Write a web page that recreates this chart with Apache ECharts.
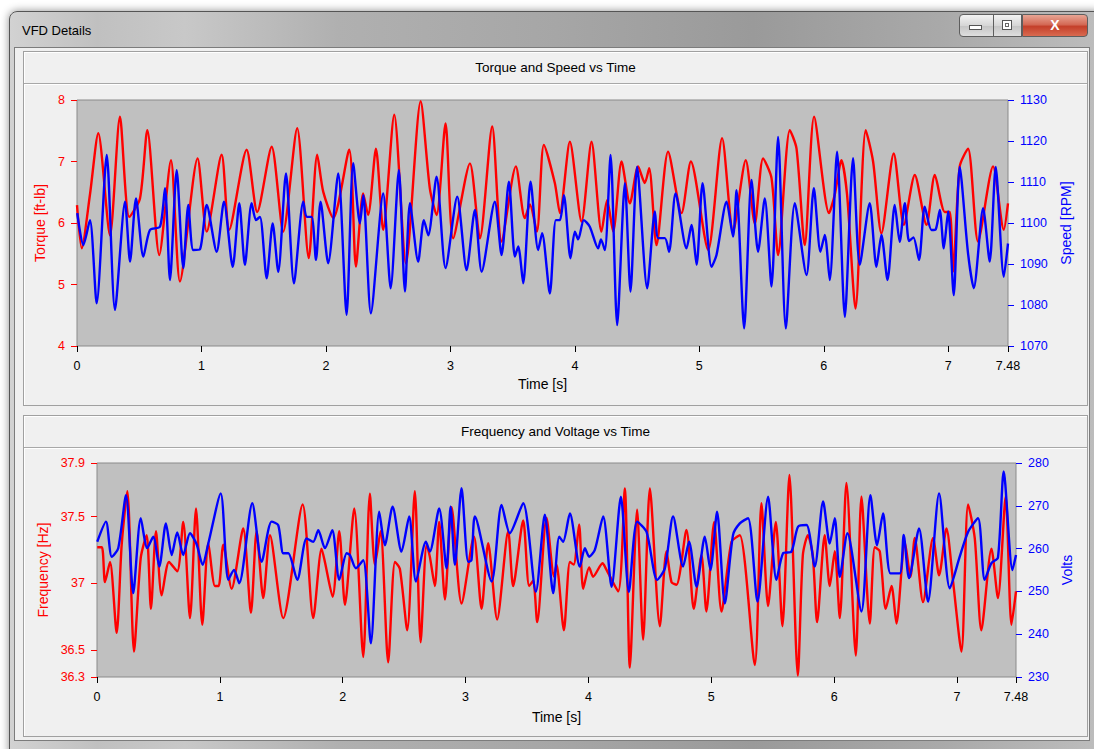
<!DOCTYPE html>
<html><head><meta charset="utf-8">
<script src="https://cdn.jsdelivr.net/npm/echarts@6/dist/echarts.min.js"></script>
<style>
html,body{margin:0;padding:0;width:1094px;height:749px;overflow:hidden;background:#ffffff;font-family:"Liberation Sans",Arial,sans-serif;}
.abs{position:absolute;box-sizing:border-box;}
#win{left:9px;top:11px;width:1095px;height:745px;border:1px solid #555;border-radius:8px 8px 0 0;
 background:linear-gradient(90deg,#d2d2d2 0%,#c0c0c0 8%,#c8c8c8 16%,#b0b0b0 30%,#a6a6a6 50%,#9a9a9a 68%,#a9a9a9 85%,#bdbdbd 100%);
 box-shadow:0 0 9px rgba(0,0,0,0.45);}
#wtitle{left:22px;top:23px;font-size:13px;color:#000;}
#client{left:14px;top:47px;width:1076px;height:694px;background:#f0f0f0;border:1px solid #7c7c7c;}
.panel{border:1px solid #a0a0a0;box-shadow:inset 1px 1px 0 #ffffff;background:#f0f0f0;}
.phead{height:31px;line-height:31px;text-align:center;font-size:13.5px;color:#000;border-bottom:1px solid #a8a8a8;box-shadow:0 1px 0 #ffffff;}
.btn{top:14px;height:23px;border:1px solid #5e5e5e;background:linear-gradient(#f3f3f3,#d6d6d6 50%,#c4c4c4 51%,#dedede);}
#bmin{left:959px;width:35px;border-radius:4px 0 0 4px;}
#bmax{left:993px;width:29px;}
#bclose{left:1022px;width:66px;border-radius:0 4px 4px 0;background:linear-gradient(#e8a594,#d46a56 45%,#c4402a 55%,#d96a50);color:#fff;font-weight:bold;font-size:14px;text-align:center;line-height:21px;}
#imin{left:969px;top:25px;width:13px;height:5px;border:1px solid #555;background:#fff;}
#imax{left:1002px;top:20px;width:10px;height:10px;border:1px solid #555;background:#fff;box-shadow:inset 0 0 0 2px #fff, inset 0 0 0 3px #666;}
#chart{left:0;top:0;width:1094px;height:749px;z-index:5;}
</style></head>
<body>
<div id="win" class="abs"></div>
<div id="wtitle" class="abs">VFD Details</div>
<div id="bmin" class="abs btn"></div>
<div id="bmax" class="abs btn"></div>
<div id="bclose" class="abs btn">X</div>
<div id="imin" class="abs"></div>
<div id="imax" class="abs"></div>
<div id="client" class="abs"></div>
<div class="abs panel" style="left:23px;top:51px;width:1065px;height:355px;"><div class="phead">Torque and Speed vs Time</div></div>
<div class="abs panel" style="left:23px;top:415px;width:1065px;height:322px;"><div class="phead">Frequency and Voltage vs Time</div></div>
<div id="chart" class="abs"></div>
<script>
// ---- data ----
var timeTicks = [0, 1, 2, 3, 4, 5, 6, 7, 7.48];
var freqTicks = [36.3, 36.5, 37, 37.5, 37.9];

var torqueT = [0,0.038,0.104,0.171,0.265,0.345,0.42,0.506,0.565,0.661,0.755,0.827,0.969,1.042,1.162,1.223,1.363,1.448,1.564,1.657,1.769,1.862,1.93,1.978,2.059,2.187,2.241,2.299,2.339,2.402,2.46,2.549,2.643,2.761,2.835,2.889,2.961,3.022,3.157,3.237,3.336,3.411,3.526,3.598,3.639,3.695,3.751,3.839,3.88,3.96,4.054,4.134,4.214,4.259,4.308,4.375,4.442,4.508,4.562,4.597,4.656,4.749,4.857,4.932,5.071,5.183,5.271,5.373,5.446,5.512,5.58,5.633,5.727,5.781,5.847,5.922,6.042,6.088,6.142,6.187,6.255,6.337,6.396,6.463,6.562,6.643,6.731,6.825,6.892,6.972,7.012,7.039,7.092,7.159,7.239,7.36,7.446,7.48];
var torqueV = [6.29,5.59,6.46,7.46,5.8,7.73,6.1,6.4,7.51,5.48,7.02,5.05,7.05,5.86,7.11,5.89,7.19,6.18,7.24,5.86,7.54,5.43,7.11,6.51,6.08,7.19,5.29,6.48,6.13,7.21,5.89,7.76,5.34,7.98,6.56,6.13,7.62,5.75,6.97,5.75,7.57,5.7,6.92,6.08,6.3,5.86,7.27,6.65,6.16,7.32,6.02,7.32,5.86,6.37,5.86,7.0,6.32,6.92,6.65,6.89,5.64,7.16,6.16,7.0,5.56,7.38,5.86,7.02,5.99,7.05,6.73,5.48,7.51,7.21,5.64,7.73,6.16,6.46,7.02,6.46,4.61,7.51,7.0,5.83,7.13,5.97,6.78,5.97,6.78,6.18,6.18,5.21,6.92,7.21,5.7,6.92,5.89,6.32];

var speedT = [0.002,0.051,0.104,0.158,0.239,0.305,0.386,0.426,0.474,0.533,0.586,0.667,0.707,0.747,0.801,0.854,0.894,0.934,0.988,1.042,1.122,1.181,1.251,1.304,1.349,1.403,1.438,1.47,1.524,1.572,1.617,1.679,1.743,1.818,1.845,1.885,1.92,1.957,2.018,2.099,2.166,2.219,2.273,2.3,2.361,2.46,2.52,2.586,2.635,2.675,2.741,2.787,2.822,2.889,2.961,3.055,3.13,3.197,3.251,3.357,3.411,3.47,3.518,3.545,3.585,3.644,3.705,3.737,3.799,3.847,3.88,3.912,3.965,4.0,4.027,4.072,4.12,4.187,4.21,4.241,4.287,4.34,4.402,4.447,4.5,4.581,4.643,4.669,4.723,4.757,4.809,4.897,4.937,4.978,5.026,5.098,5.138,5.219,5.271,5.299,5.36,5.419,5.472,5.526,5.58,5.633,5.695,5.767,5.861,5.92,5.973,6.008,6.048,6.107,6.169,6.235,6.289,6.369,6.423,6.463,6.512,6.57,6.61,6.651,6.685,6.72,6.765,6.811,6.865,6.9,6.932,6.964,6.999,7.044,7.092,7.159,7.205,7.28,7.333,7.381,7.446,7.48];
var speedV = [1102.4,1094.6,1100.7,1080.4,1116.6,1078.8,1105.2,1090.6,1106.0,1091.8,1098.3,1099.1,1108.5,1086.1,1112.9,1089.0,1104.4,1093.4,1093.6,1104.4,1093.0,1105.2,1089.3,1104.8,1089.8,1104.8,1100.7,1101.5,1086.5,1099.9,1088.1,1112.1,1085.3,1105.2,1101.5,1101.5,1091.0,1105.2,1090.2,1112.1,1077.6,1114.6,1099.9,1106.8,1078.0,1107.2,1084.1,1112.9,1083.3,1104.8,1090.6,1100.7,1097.0,1111.3,1089.0,1106.4,1088.5,1103.2,1088.1,1105.2,1092.2,1110.1,1091.8,1094.3,1085.3,1110.1,1093.4,1097.5,1082.8,1100.7,1100.7,1106.8,1091.4,1097.9,1096.0,1100.7,1099.1,1093.8,1096.0,1093.4,1116.6,1075.1,1109.7,1083.3,1113.7,1084.1,1102.8,1096.3,1096.3,1093.0,1107.2,1093.8,1099.5,1089.8,1109.7,1089.3,1092.2,1105.2,1096.7,1108.0,1074.3,1110.5,1093.0,1106.0,1084.5,1121.0,1074.3,1104.8,1087.3,1108.5,1093.0,1097.1,1086.1,1117.4,1077.1,1115.8,1089.8,1104.8,1089.3,1097.1,1086.1,1104.4,1095.4,1104.8,1095.6,1096.5,1091.0,1104.0,1098.3,1098.5,1103.2,1093.8,1102.8,1082.4,1113.7,1092.6,1084.1,1103.6,1090.6,1113.7,1086.9,1095.0];

var freqT = [0.002,0.04,0.065,0.106,0.16,0.201,0.247,0.301,0.356,0.404,0.439,0.48,0.526,0.586,0.653,0.702,0.757,0.806,0.857,0.906,0.96,0.99,1.028,1.096,1.19,1.253,1.299,1.353,1.408,1.516,1.674,1.76,1.828,1.855,1.918,1.972,2.018,2.094,2.167,2.221,2.262,2.308,2.37,2.425,2.465,2.525,2.587,2.634,2.683,2.709,2.75,2.785,2.832,2.886,2.967,3.068,3.13,3.184,3.257,3.347,3.387,3.469,3.517,3.55,3.583,3.659,3.72,3.74,3.8,3.849,3.88,3.924,3.957,4.006,4.038,4.115,4.142,4.242,4.296,4.337,4.396,4.445,4.5,4.581,4.635,4.676,4.717,4.798,4.857,4.92,4.96,5.023,5.083,5.164,5.232,5.354,5.408,5.462,5.525,5.579,5.636,5.704,5.745,5.786,5.826,5.861,5.923,5.964,6.005,6.046,6.1,6.176,6.222,6.29,6.331,6.371,6.42,6.467,6.507,6.575,6.621,6.656,6.723,6.805,6.854,6.914,6.967,7.036,7.09,7.144,7.198,7.28,7.333,7.396,7.443,7.48];
var freqV = [37.27,37.27,37.01,37.16,36.63,37.29,37.69,36.49,37.19,37.36,36.81,37.39,36.91,37.16,37.09,37.46,36.74,37.56,36.69,37.3,36.98,36.98,37.29,36.96,37.41,36.78,37.39,36.89,37.36,36.74,37.59,36.74,37.26,37.16,36.9,37.39,36.84,37.56,36.45,37.67,37.14,37.39,36.41,37.16,37.11,36.65,37.69,36.56,37.29,37.2,36.98,37.46,36.88,37.57,36.85,37.35,36.81,37.3,36.73,37.39,36.98,37.47,36.98,37.02,36.71,37.49,37.05,37.14,36.65,37.16,37.14,37.44,36.96,37.12,37.05,37.15,37.11,36.94,37.71,36.37,37.55,36.58,37.71,36.68,37.24,37.01,36.99,37.4,36.81,37.21,36.79,37.46,36.79,37.31,37.36,36.39,37.6,36.83,37.46,36.68,37.81,36.31,37.21,37.36,37.21,36.71,37.36,36.98,37.24,36.74,37.75,36.46,37.65,36.7,37.27,37.24,36.81,36.98,36.7,37.31,37.05,37.34,36.86,37.34,37.06,37.41,37.02,36.49,37.59,37.34,36.65,37.26,36.89,37.65,36.69,36.94];

var voltT = [0.002,0.073,0.12,0.173,0.236,0.295,0.356,0.409,0.458,0.507,0.561,0.608,0.653,0.702,0.757,0.811,0.86,0.906,1.007,1.068,1.115,1.158,1.264,1.34,1.421,1.475,1.516,1.557,1.63,1.706,1.76,1.801,1.855,1.915,1.972,2.032,2.059,2.107,2.167,2.229,2.297,2.343,2.406,2.478,2.541,2.596,2.677,2.709,2.785,2.845,2.878,2.913,2.967,3.021,3.048,3.076,3.212,3.293,3.36,3.469,3.572,3.645,3.713,3.762,3.794,3.849,3.93,3.971,4.006,4.052,4.12,4.188,4.264,4.329,4.396,4.473,4.559,4.622,4.689,4.77,4.819,4.88,4.947,4.993,5.047,5.11,5.177,5.232,5.299,5.376,5.462,5.53,5.584,5.652,5.706,5.775,5.842,5.91,5.964,6.005,6.046,6.108,6.222,6.295,6.349,6.398,6.458,6.534,6.566,6.609,6.691,6.764,6.854,6.941,7.022,7.09,7.171,7.225,7.28,7.333,7.38,7.451,7.48];
var voltV = [261.6,266.3,258.1,260.1,272.5,249.6,267.1,260.1,262.8,255.8,265.9,258.5,263.8,258.5,263.6,261.0,256.2,261.2,272.9,252.7,255.0,251.9,270.6,256.9,266.3,265.5,258.9,258.9,252.7,262.4,261.6,264.3,260.1,264.3,252.7,258.9,258.5,255.4,257.3,237.9,268.6,260.8,269.8,259.3,267.5,252.3,261.6,259.3,269.4,255.4,269.8,256.2,274.1,256.9,257.3,267.5,252.3,270.2,263.6,270.6,249.9,267.9,249.6,262.8,261.6,268.2,255.8,260.1,258.1,259.7,267.5,251.1,272.1,249.9,266.3,263.9,252.7,255.4,267.5,255.8,261.6,251.1,262.8,255.0,268.6,247.2,263.2,265.9,267.1,247.6,272.1,252.7,258.9,259.3,265.1,265.5,255.8,271.0,261.2,267.1,253.4,263.6,245.3,272.5,260.8,268.2,254.2,254.2,263.2,253.1,264.7,247.6,272.9,250.7,258.1,263.9,267.1,252.7,256.6,257.9,278.0,255.0,258.5];

function pairs(t, v) { return t.map(function (x, i) { return [x, v[i]]; }); }

var RED = '#ff0000', BLUE = '#0000ff';
var FONT = '"Liberation Sans", Arial, sans-serif';
var chart = echarts.init(document.getElementById('chart'), null, {renderer: 'svg'});
function plain(v) { return String(v); }

function xAxisFor(gi, gap) {
  return {
    type: 'value', gridIndex: gi, min: 0, max: 7.48,
    axisLine: {show: false},
    axisTick: {show: true, length: 6, customValues: timeTicks, lineStyle: {color: '#000', width: 1}},
    axisLabel: {customValues: timeTicks, color: '#000', fontSize: 12.5, fontFamily: FONT, margin: 13, formatter: plain},
    splitLine: {show: false},
    name: 'Time [s]', nameLocation: 'middle', nameGap: gap,
    nameTextStyle: {color: '#000', fontSize: 14, fontFamily: FONT}
  };
}
function yAxisFor(gi, pos, color, name, gap, extra) {
  var a = {
    type: 'value', gridIndex: gi, position: pos,
    axisLine: {show: false},
    axisTick: {show: true, length: 6, lineStyle: {color: color, width: 1}},
    axisLabel: {color: color, fontSize: 12.5, fontFamily: FONT, margin: 12, formatter: plain},
    splitLine: {show: false},
    name: name, nameLocation: 'middle', nameGap: gap,
    nameTextStyle: {color: color, fontSize: 14, fontFamily: FONT}
  };
  for (var k in extra) a[k] = extra[k];
  return a;
}

var freqAxis = yAxisFor(1, 'left', RED, 'Frequency [Hz]', 46, {min: 36.3, max: 37.9});
freqAxis.axisTick.customValues = freqTicks;
freqAxis.axisLabel.customValues = freqTicks;

function line(name, xi, yi, data, color) {
  return {
    name: name, type: 'line', xAxisIndex: xi, yAxisIndex: yi, data: data,
    showSymbol: false, smooth: 0.25, animation: false,
    lineStyle: {color: color, width: 2.4}, itemStyle: {color: color}
  };
}

chart.setOption({
  animation: false,
  grid: [
    {left: 77, top: 100, width: 931, height: 246, show: true, backgroundColor: '#c0c0c0', borderColor: '#8a8a8a', borderWidth: 1},
    {left: 97, top: 463, width: 919, height: 214, show: true, backgroundColor: '#c0c0c0', borderColor: '#8a8a8a', borderWidth: 1}
  ],
  xAxis: [xAxisFor(0, 31), xAxisFor(1, 33)],
  yAxis: [
    yAxisFor(0, 'left', RED, 'Torque [ft-lb]', 28, {min: 4, max: 8, interval: 1}),
    yAxisFor(0, 'right', BLUE, 'Speed [RPM]', 50, {min: 1070, max: 1130, interval: 10}),
    freqAxis,
    yAxisFor(1, 'right', BLUE, 'Volts', 44, {min: 230, max: 280, interval: 10})
  ],
  series: [
    line('Torque', 0, 0, pairs(torqueT, torqueV), RED),
    line('Speed', 0, 1, pairs(speedT, speedV), BLUE),
    line('Frequency', 1, 2, pairs(freqT, freqV), RED),
    line('Volts', 1, 3, pairs(voltT, voltV), BLUE)
  ]
});
</script>
</body></html>
